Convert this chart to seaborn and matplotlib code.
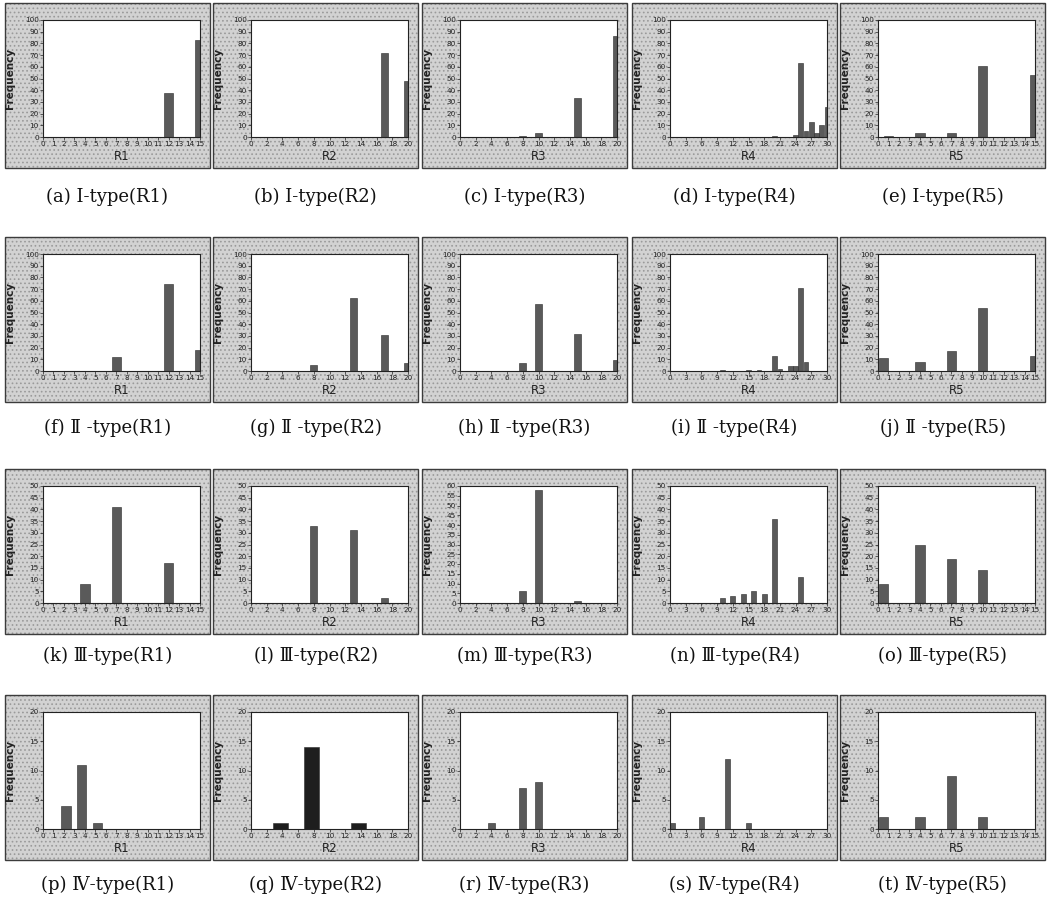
import numpy as np
import matplotlib
matplotlib.use("Agg")
import matplotlib.pyplot as plt
import seaborn as sns
from matplotlib.patches import Rectangle

# ---------------- data ----------------
variables = ["R1", "R2", "R3", "R4", "R5"]
row_types = ["I", "Ⅱ -", "Ⅲ", "Ⅳ"]
letters = list("abcdefghijklmnopqrst")

x_max = [15, 20, 20, 30, 15]
x_step = [1, 2, 2, 3, 1]
row_ymax = [100, 100, 50, 20]
row_ystep = [10, 10, 5, 5]

# Row 1: I-type
a_x = [12, 15];                        a_y = [38, 83]
b_x = [17, 20];                        b_y = [72, 48]
c_x = [8, 10, 15, 20];                 c_y = [1, 3, 33, 86]
d_x = [20, 24, 25, 26, 27, 28, 29, 30]; d_y = [1, 2, 63, 5, 13, 3, 10, 26]
e_x = [1, 4, 7, 10, 15];               e_y = [1, 3, 3, 61, 53]
# Row 2: II-type
f_x = [7, 12, 15];                     f_y = [12, 74, 18]
g_x = [8, 13, 17, 20];                 g_y = [5, 62, 31, 7]
h_x = [8, 10, 15, 20];                 h_y = [7, 57, 32, 9]
i_x = [10, 15, 17, 20, 21, 23, 24, 25, 26]; i_y = [1, 1, 1, 13, 2, 4, 4, 71, 8]
j_x = [0.5, 4, 7, 10, 15];             j_y = [11, 8, 17, 54, 13]
# Row 3: III-type
k_x = [4, 7, 12];                      k_y = [8, 41, 17]
l_x = [8, 13, 17];                     l_y = [33, 31, 2]
m_x = [8, 10, 15];                     m_y = [6, 58, 1]
n_x = [10, 12, 14, 16, 18, 20, 25];    n_y = [2, 3, 4, 5, 4, 36, 11]
o_x = [0.5, 4, 7, 10];                 o_y = [8, 25, 19, 14]
# Row 4: IV-type
p_x = [2.2, 3.7, 5.2];                 p_y = [4, 11, 1]
q_x = [3.7, 7.7, 13.7];                q_y = [1, 14, 1]
r_x = [4, 8, 10];                      r_y = [1, 7, 8]
s_x = [0.5, 6, 11, 15];                s_y = [1, 2, 12, 1]
t_x = [0.5, 4, 7, 10];                 t_y = [2, 2, 9, 2]

series = [(a_x, a_y), (b_x, b_y), (c_x, c_y), (d_x, d_y), (e_x, e_y),
          (f_x, f_y), (g_x, g_y), (h_x, h_y), (i_x, i_y), (j_x, j_y),
          (k_x, k_y), (l_x, l_y), (m_x, m_y), (n_x, n_y), (o_x, o_y),
          (p_x, p_y), (q_x, q_y), (r_x, r_y), (s_x, s_y), (t_x, t_y)]
ymax_override = {"m": 60}

# ---------------- layout ----------------
W, H = 1048, 908
sns.set_theme(style="white")
plt.rcParams['font.family'] = ['DejaVu Sans', 'Noto Sans CJK KR']
plt.rcParams['hatch.linewidth'] = 0.7

fig = plt.figure(figsize=(W / 100, H / 100), dpi=100)
fig.patch.set_facecolor("white")

col_left = [5, 213, 422, 632, 840]
row_top = [3, 237, 469, 695]
cap_y = [197, 428, 656, 885]
panel_w, panel_h = 205, 165
ax_dx, ax_dy, ax_w, ax_h = 38, 17, 157, 117


def fx(px):
    return px / W


def fy(py):
    return 1 - py / H


for idx, (xs, ys) in enumerate(series):
    r, c = divmod(idx, 5)
    L, T = col_left[c], row_top[r]
    # grey stippled panel background
    fig.patches.append(Rectangle((fx(L), fy(T + panel_h)), panel_w / W, panel_h / H,
                                 transform=fig.transFigure, facecolor="#d2d2d2",
                                 edgecolor="#9a9a9a", hatch="....", lw=0, zorder=0))
    fig.patches.append(Rectangle((fx(L), fy(T + panel_h)), panel_w / W, panel_h / H,
                                 transform=fig.transFigure, facecolor="none",
                                 edgecolor="#3c3c3c", lw=1.0, zorder=1))

    ax = fig.add_axes([fx(L + ax_dx), fy(T + ax_dy + ax_h), ax_w / W, ax_h / H])
    ax.set_facecolor("white")
    ax.set_zorder(2)

    uniq = np.unique(xs)
    mind = np.min(np.diff(uniq))
    bar_w = 1.9 if letters[idx] == "q" else 0.9
    color = "#1e1e1e" if letters[idx] == "q" else "#5a5a5a"
    sns.barplot(x=xs, y=ys, native_scale=True, orient="x", width=bar_w / mind,
                color=color, saturation=1, edgecolor="#2a2a2a", linewidth=0.4, ax=ax)

    xm = x_max[c]
    ym = ymax_override.get(letters[idx], row_ymax[r])
    ax.set_xlim(0, xm)
    ax.set_ylim(0, ym)
    ax.set_xticks(np.arange(0, xm + 0.01, x_step[c]))
    ax.set_yticks(np.arange(0, ym + 0.01, row_ystep[r]))
    ax.tick_params(axis="both", labelsize=5.2, length=2, width=0.5, pad=1,
                   colors="#222222", direction="out")
    ax.tick_params(axis="x", bottom=True)
    ax.tick_params(axis="y", left=True)
    for sp in ax.spines.values():
        sp.set_visible(True)
        sp.set_color("#222222")
        sp.set_linewidth(0.8)
    ax.set_xlabel(variables[c], fontsize=8.5, labelpad=2, color="#222222")
    ax.set_ylabel("Frequency", fontsize=7.5, fontweight="bold", color="#222222")
    ax.yaxis.set_label_coords(-(ax_dx - 10) / ax_w, 0.5)

    cap = f"({letters[idx]}) {row_types[r]}{'' if row_types[r].endswith('-') else '-'}type({variables[c]})"
    fig.text(fx(L + panel_w / 2), fy(cap_y[r]), cap, ha="center", va="center",
             fontsize=13, family=["DejaVu Serif", "Noto Sans CJK KR"], color="#111111")

fig.savefig("out.png", dpi=100, facecolor="white")
